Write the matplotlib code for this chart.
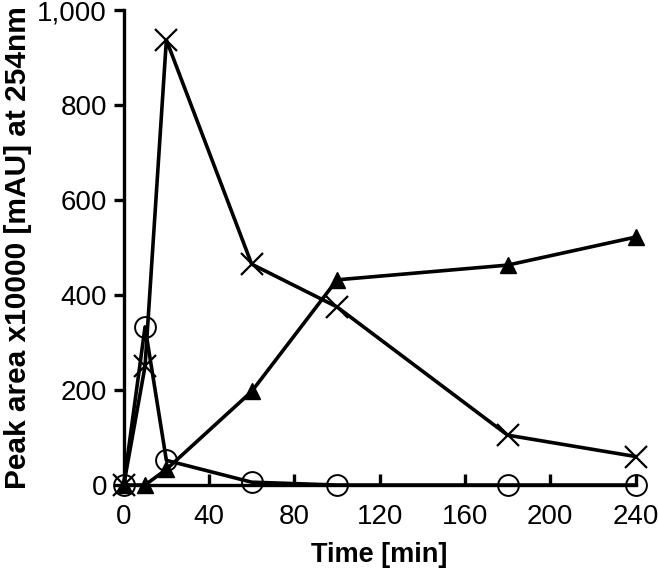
import matplotlib.pyplot as plt
from matplotlib.ticker import FuncFormatter

plt.rcParams['font.family'] = ['Liberation Sans', 'DejaVu Sans']

time = [0, 10, 20, 60, 100, 180, 240]
cross = [0, 250, 937, 465, 375, 105, 60]
triangle = [0, 0, 33, 197, 432, 463, 522]
circle = [0, 333, 52, 6, 0, 0, 0]

fig = plt.figure(figsize=(6.58, 5.74), dpi=100)
ax = fig.add_axes([0.188, 0.155, 0.778, 0.8275])

ax.plot(time, cross, color='black', lw=2.6, marker='x', ms=16, mew=1.6, clip_on=False, zorder=3)
ax.plot(time, triangle, color='black', lw=2.6, marker='^', ms=12, clip_on=False, zorder=3)
ax.plot(time, circle, color='black', lw=2.6, marker='o', ms=15, mfc='none', mew=1.4, clip_on=False, zorder=3)

ax.set_xlim(0, 240)
ax.set_ylim(0, 1000)
ax.set_xticks(range(0, 241, 40))
ax.set_yticks(range(0, 1001, 200))
ax.yaxis.set_major_formatter(FuncFormatter(lambda v, p: f'{int(v):,}'))
ax.spines['top'].set_visible(False)
ax.spines['right'].set_visible(False)
ax.spines['left'].set_linewidth(2.4)
ax.spines['bottom'].set_linewidth(2.4)
ax.tick_params(axis='x', direction='in', length=8, width=2.4, labelsize=20, pad=14)
ax.tick_params(axis='y', direction='out', length=7, width=2.4, labelsize=20, pad=5)
ax.set_xlabel('Time [min]', fontsize=19.5, fontweight='bold', labelpad=8)
ax.set_ylabel('Peak area x10000 [mAU] at 254nm', fontsize=21.5, fontweight='bold', labelpad=4)

fig.savefig('out.png', dpi=100)
